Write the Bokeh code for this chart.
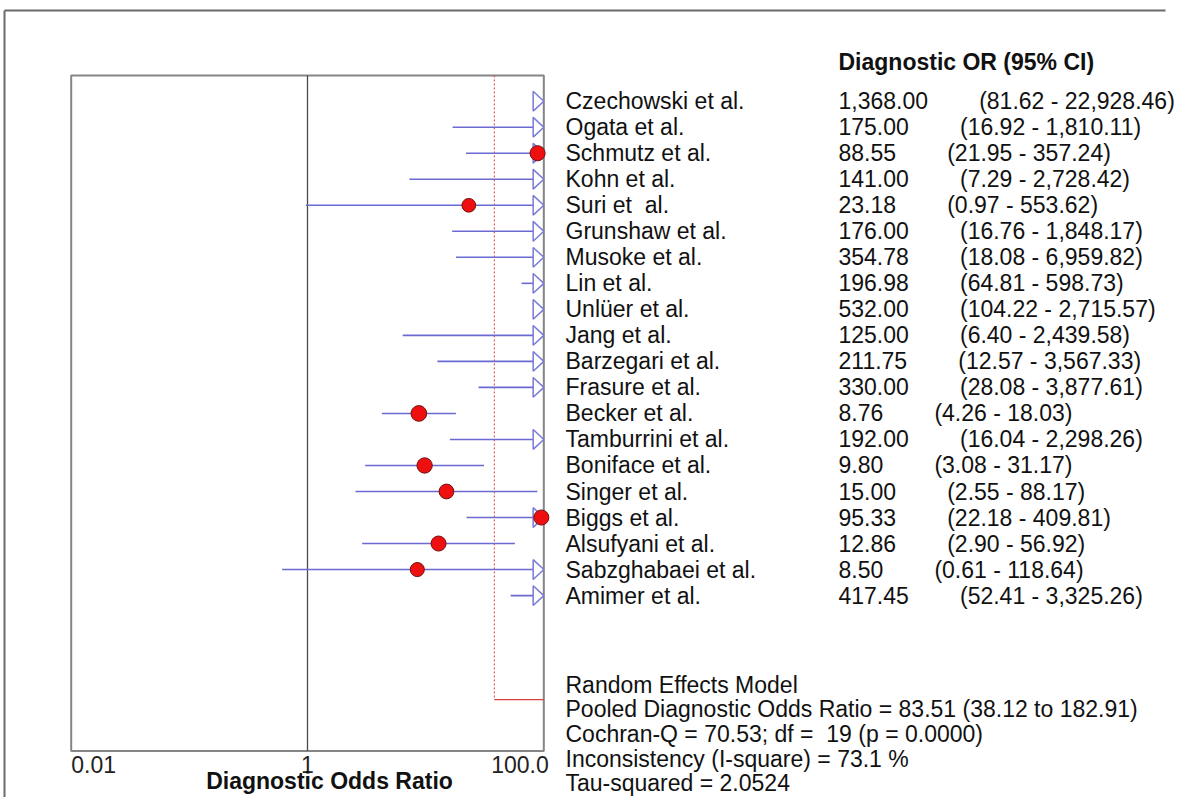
import math
from bokeh.plotting import figure
from bokeh.models import Range1d, LinearScale
from bokeh.core.properties import value
from bokeh.embed import file_html
from bokeh.resources import INLINE

# ---------------- data ----------------
studies = ["Czechowski et al.", "Ogata et al.", "Schmutz et al.", "Kohn et al.",
           "Suri et  al.", "Grunshaw et al.", "Musoke et al.", "Lin et al.",
           "Unlüer et al.", "Jang et al.", "Barzegari et al.", "Frasure et al.",
           "Becker et al.", "Tamburrini et al.", "Boniface et al.", "Singer et al.",
           "Biggs et al.", "Alsufyani et al.", "Sabzghabaei et al.", "Amimer et al."]
dor = [1368.00, 175.00, 88.55, 141.00, 23.18, 176.00, 354.78, 196.98, 532.00, 125.00,
       211.75, 330.00, 8.76, 192.00, 9.80, 15.00, 95.33, 12.86, 8.50, 417.45]
ci_low = [81.62, 16.92, 21.95, 7.29, 0.97, 16.76, 18.08, 64.81, 104.22, 6.40,
          12.57, 28.08, 4.26, 16.04, 3.08, 2.55, 22.18, 2.90, 0.61, 52.41]
ci_high = [22928.46, 1810.11, 357.24, 2728.42, 553.62, 1848.17, 6959.82, 598.73, 2715.57, 2439.58,
           3567.33, 3877.61, 18.03, 2298.26, 31.17, 88.17, 409.81, 56.92, 118.64, 3325.26]

pooled_or = 83.51
pooled_low = 38.12
pooled_high = 182.91
cochran_q = 70.53
q_df = 19
p_value = "0.0000"
i_square = 73.1
tau_squared = 2.0524

tick_values = [0.01, 1, 100]
tick_labels = ["0.01", "1", "100.0"]
null_value = 1
x_title = "Diagnostic Odds Ratio"
column_title = "Diagnostic OR (95% CI)"
model_title = "Random Effects Model"

# ---------------- layout constants ----------------
W, H = 1177, 797
PAGE_X0, PAGE_Y0 = 0, 0
X_LEFT_PX, X_RIGHT_PX = 70.7, 543.3
ROW0_PX, ROW_STEP = 100.7, 26.02
XMIN, XMAX = tick_values[0], tick_values[-1]
decade_px = (X_RIGHT_PX - X_LEFT_PX) / (math.log10(XMAX) - math.log10(XMIN))
lx0 = math.log10(XMIN) - (X_LEFT_PX - PAGE_X0) / decade_px
lx1 = math.log10(XMAX) + (PAGE_X0 + W - X_RIGHT_PX) / decade_px
y_top = (PAGE_Y0 - ROW0_PX) / ROW_STEP
y_bot = (PAGE_Y0 + H - ROW0_PX) / ROW_STEP

BOX_TOP, BOX_BOT = -0.99, 24.97
POOLED_ROW = len(studies) + 3
BORDER_ROW = (10 - ROW0_PX) / ROW_STEP
FONT = value("Liberation Sans")
FS = "23px"
TXT = "#111111"
LINE_BLUE = "#6a6ad2"
TRI_BLUE = "#7a7ad8"
GAP = " " + "\u00a0" * 7

p = figure(width=W, height=H, x_axis_type="log",
           x_range=Range1d(10 ** lx0, 10 ** lx1), y_range=Range1d(y_bot, y_top),
           x_axis_location=None, y_axis_location=None,
           output_backend="svg", toolbar_location=None, min_border=0)
p.grid.visible = False
p.outline_line_color = None
p.background_fill_color = "white"
p.border_fill_color = "white"
p.extra_x_ranges = {"px": Range1d(PAGE_X0, PAGE_X0 + W)}
p.extra_x_scales = {"px": LinearScale()}

# outer frame (top and left edges)
p.multi_line(xs=[[4, W - 12], [4, 4]], ys=[[BORDER_ROW, BORDER_ROW], [BORDER_ROW, y_bot]],
             x_range_name="px", line_color="#6a6a6a", line_width=2)

# plot box
p.quad(left=XMIN, right=XMAX, top=BOX_TOP, bottom=BOX_BOT,
       fill_color=None, line_color="#858585", line_width=2)
# null line
p.segment(x0=null_value, y0=BOX_TOP, x1=null_value, y1=BOX_BOT,
          line_color="#4a4a4a", line_width=1.3)
# pooled markers
p.segment(x0=pooled_low, y0=BOX_TOP, x1=pooled_low, y1=POOLED_ROW,
          line_color="#d84040", line_width=1, line_dash="2 2")
p.segment(x0=pooled_low, y0=POOLED_ROW, x1=XMAX, y1=POOLED_ROW,
          line_color="#d84040", line_width=1.2)

rows = list(range(len(studies)))
# CI lines (clipped to axis limits)
seg_rows = [i for i in rows if ci_low[i] < XMAX]
p.segment(x0=[max(ci_low[i], XMIN) for i in seg_rows], y0=seg_rows,
          x1=[min(ci_high[i], XMAX) for i in seg_rows], y1=seg_rows,
          line_color=LINE_BLUE, line_width=1.6)

# arrows for CIs beyond the axis
k = 10 ** 0.09
half = 0.38
arrow_rows = [i for i in rows if ci_high[i] > XMAX]
p.patches(xs=[[XMAX / k, XMAX, XMAX / k] for _ in arrow_rows],
          ys=[[r - half, r, r + half] for r in arrow_rows],
          fill_color="white", line_color=TRI_BLUE, line_width=1.5)

# point estimates within the axis
pt_rows = [i for i in rows if dor[i] <= XMAX]
def weight(i):
    se = (math.log(ci_high[i]) - math.log(ci_low[i])) / 3.92
    return 1.0 / (se * se + tau_squared)
p.scatter(x=[dor[i] for i in pt_rows], y=pt_rows,
          size=[12 + 8 * weight(i) for i in pt_rows],
          fill_color="#ee1010", line_color="#701010", line_width=1)

# tick labels
TICK_ROW = 25.5
p.text(x=[tick_values[0]], y=[TICK_ROW], text=[tick_labels[0]], text_align="left",
       text_baseline="middle", text_font=FONT, text_font_size=FS, text_color="#222")
p.text(x=[tick_values[1]], y=[TICK_ROW], text=[tick_labels[1]], text_align="center",
       text_baseline="middle", text_font=FONT, text_font_size=FS, text_color="#222")
p.text(x=[tick_values[2]], y=[TICK_ROW], text=[tick_labels[2]], text_align="right",
       x_offset=5, text_baseline="middle", text_font=FONT, text_font_size=FS,
       text_color="#222")
p.text(x=[329], y=[26.12], text=[x_title], x_range_name="px", text_align="center",
       text_baseline="middle", text_font=FONT, text_font_size="23px",
       text_font_style="bold", text_color=TXT)

# right-hand table
p.text(x=[838], y=[-1.49], text=[column_title], x_range_name="px",
       text_baseline="middle", text_font=FONT, text_font_size=FS,
       text_font_style="bold", text_color=TXT)
names = [s.replace("  ", " \u00a0") for s in studies]
p.text(x=[565] * len(studies), y=rows, text=names, x_range_name="px",
       text_baseline="middle", text_font=FONT, text_font_size=FS, text_color=TXT)
vals = [f"{d:,.2f}{GAP}({l:,.2f} - {h:,.2f})" for d, l, h in zip(dor, ci_low, ci_high)]
p.text(x=[838] * len(studies), y=rows, text=vals, x_range_name="px",
       text_baseline="middle", text_font=FONT, text_font_size=FS, text_color=TXT)

summary_lines = [
    model_title,
    f"Pooled Diagnostic Odds Ratio = {pooled_or:.2f} ({pooled_low:.2f} to {pooled_high:.2f})",
    f"Cochran-Q = {cochran_q:.2f}; df = \u00a0{q_df} (p = {p_value})",
    f"Inconsistency (I-square) = {i_square:.1f} %",
    f"Tau-squared = {tau_squared:.4f}",
]
p.text(x=[565] * len(summary_lines),
       y=[POOLED_ROW - 0.57 + 0.945 * i for i in range(len(summary_lines))],
       text=summary_lines, x_range_name="px", text_baseline="middle",
       text_font=FONT, text_font_size=FS, text_color=TXT)

open("out.html", "w").write(file_html(p, INLINE))
